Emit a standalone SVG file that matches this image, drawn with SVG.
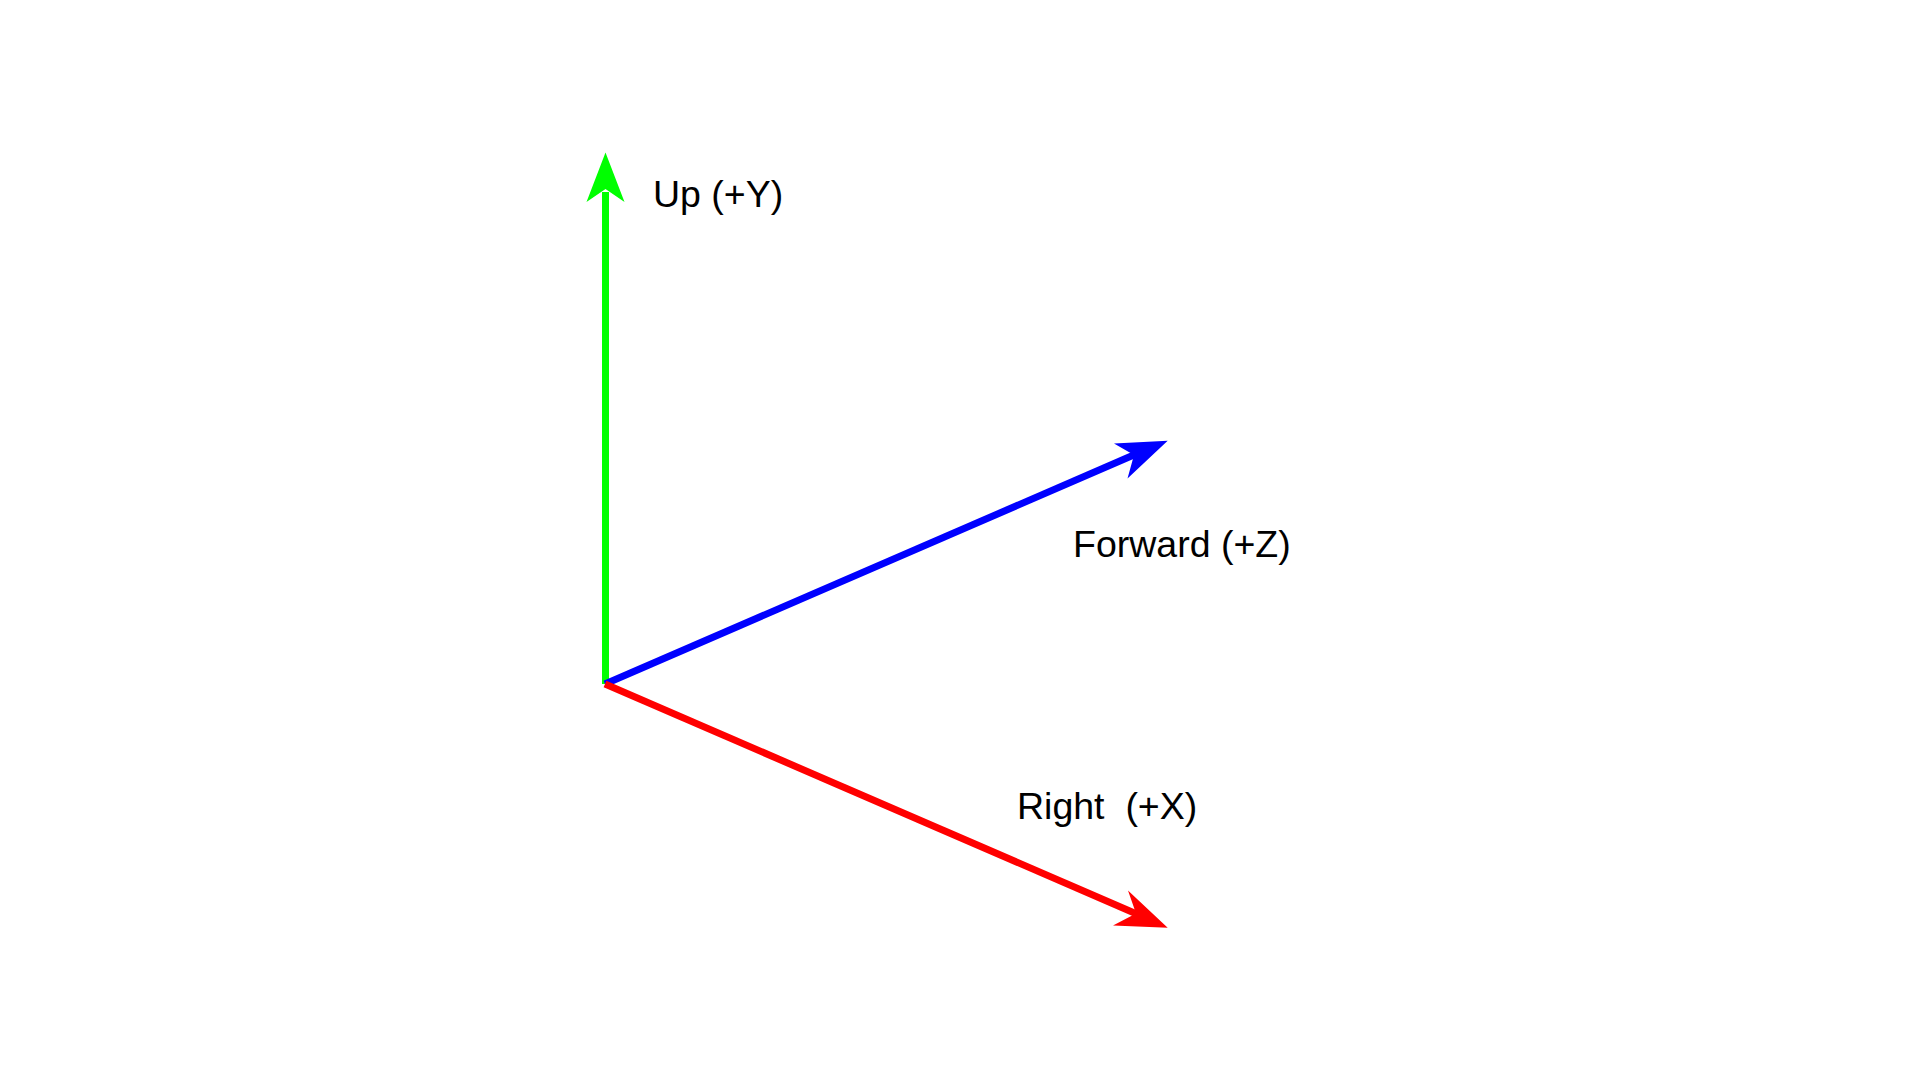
<svg xmlns="http://www.w3.org/2000/svg" width="1920" height="1080" viewBox="0 0 1920 1080">
<style>
.lbl{font-family:"Liberation Sans",Arial,sans-serif;font-size:37.5px;fill:#000;white-space:pre}
.ax{stroke-width:7;fill:none}
</style>
<rect width="1920" height="1080" fill="#fff"/>
<g id="connectors">
<line class="ax" x1="605.5" y1="684" x2="605.5" y2="192" stroke="#00ff00"/>
<polygon points="605.5,152.5 624.5,202 605.5,189 586.5,202" fill="#00ff00"/>
<line class="ax" x1="605" y1="684" x2="1136" y2="454" stroke="#0000ff"/>
<polygon points="1167.7,440.7 1127.5,478.5 1134,455 1114,443.5" fill="#0000ff"/>
<line class="ax" x1="605" y1="684" x2="1139" y2="915" stroke="#ff0000"/>
<polygon points="1167.7,927.7 1128,890.5 1136,913.5 1113,925.5" fill="#ff0000"/>
</g>
<g id="up"><text class="lbl" x="653" y="207">Up (+Y)</text></g>
<g id="forward"><text class="lbl" x="1073" y="557">Forward (+Z)</text></g>
<g id="right"><text class="lbl" x="1017" y="819">Right  (+X)</text></g>
</svg>
